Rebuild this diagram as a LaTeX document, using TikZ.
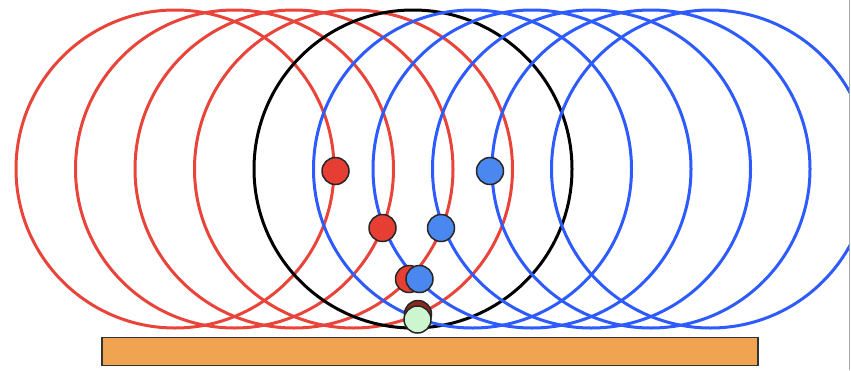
\documentclass[tikz,border=0pt]{standalone}
\usepackage{xcolor}
\usepackage{tikz}

\definecolor{wavered}{HTML}{E8443A}
\definecolor{waveblue}{HTML}{2D5BFF}
\definecolor{dotred}{HTML}{E63E32}
\definecolor{dotblue}{HTML}{4A88F0}
\definecolor{dotdark}{HTML}{8A2A1E}
\definecolor{dotgreen}{HTML}{CDF5CF}
\definecolor{floorfill}{HTML}{F0A452}

\begin{document}
\begin{tikzpicture}[
  x=1pt, y=-1pt,
  redwave/.style={draw=wavered, line width=3pt},
  bluewave/.style={draw=waveblue, line width=3pt},
  blackwave/.style={draw=black, line width=3pt},
  dot/.style={circle, draw=black!85, line width=1.5pt, minimum size=27pt, inner sep=0pt},
  reddot/.style={dot, fill=dotred},
  bluedot/.style={dot, fill=dotblue}
]
\useasboundingbox (0,0) rectangle (851,370);
% frame edge
\draw[gray!70, line width=1.2pt] (849.5,0) -- (849.5,370);
% wave fronts
\begin{scope}
\clip (0,0) rectangle (849,370);
\foreach \k in {1,...,4}
  \draw[redwave] (413-59.5*\k,169) circle[radius=159];
\draw[blackwave] (413,169) circle[radius=159];
\foreach \k in {1,...,5}
  \draw[bluewave] (413+59.5*\k,169) circle[radius=159];
\end{scope}
% floor
\node[draw=black!80, line width=1.5pt, fill=floorfill, minimum width=656pt, minimum height=28pt, inner sep=0pt] (floor) at (430,351.5) {};
% sources
\node[reddot] (r1) at (335.5,171) {};
\node[reddot] (r2) at (382.5,228) {};
\node[reddot] (r3) at (409,279) {};
\node[bluedot] (b1) at (490,171) {};
\node[bluedot] (b2) at (441,228) {};
\node[bluedot] (b3) at (419.5,279) {};
\node[dot, fill=dotdark] (d0) at (418,314) {};
\node[dot, fill=dotgreen] (g0) at (417.5,319.5) {};
\end{tikzpicture}
\end{document}
